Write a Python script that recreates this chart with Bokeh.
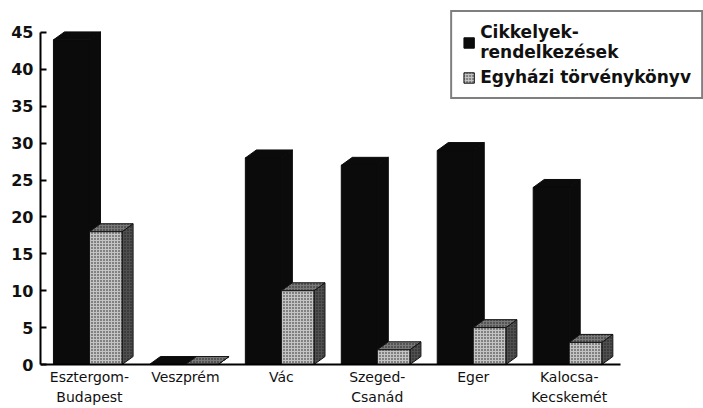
import numpy as np
from bokeh.plotting import figure
from bokeh.models import (Range1d, FixedTicker, Legend, LegendItem, ColumnDataSource)
from bokeh.embed import file_html
from bokeh.resources import INLINE

# ---- data ----
categories = ["Esztergom-\nBudapest", "Veszprém", "Vác", "Szeged-\nCsanád", "Eger", "Kalocsa-\nKecskemét"]
cikkelyek = [44, 0, 28, 27, 29, 24]
egyhazi = [18, 0, 10, 2, 5, 3]
y_ticks = [0, 5, 10, 15, 20, 25, 30, 35, 40, 45]

# ---- style / geometry constants ----
BW = 0.375   # black bar front width (in category units)
PW = 0.34    # patterned bar front width
DX = 0.115   # 3D depth in x
DY = 1.08    # 3D depth in y (value units)

x = np.arange(len(categories), dtype=float)

p = figure(width=703, height=408, output_backend="svg", toolbar_location=None,
           x_range=Range1d(-0.51, 6.40), y_range=Range1d(-5.96, 47.98),
           min_border_left=40, min_border_right=0, min_border_top=10, min_border_bottom=0)
p.outline_line_color = None
p.xgrid.visible = False
p.ygrid.visible = False
p.background_fill_color = "white"
p.border_fill_color = "white"


def bar3d(xl, xr, vals, front_kw, top_kw, side_kw):
    vals = np.asarray(vals, dtype=float)
    side_xs = [[a, a + DX, a + DX, a] for a in xr]
    side_ys = [[0, DY, v + DY, v] for v in vals]
    top_xs = [[a, a + DX, b + DX, b] for a, b in zip(xl, xr)]
    top_ys = [[v, v + DY, v + DY, v] for v in vals]
    p.patches(side_xs, side_ys, **side_kw)
    p.patches(top_xs, top_ys, **top_kw)
    src = ColumnDataSource(dict(x=(xl + xr) / 2, top=vals))
    r = p.vbar(x="x", top="top", bottom=0, width=xr[0] - xl[0], source=src, **front_kw)
    return r


black = dict(fill_color="#0b0b0b", line_color="#0b0b0b", line_width=1)
r1 = bar3d(x - BW, x, cikkelyek, black, black, black)

hatch = dict(hatch_pattern="dot", hatch_color="#1a1a1a", hatch_scale=3, hatch_weight=1.5)
r2 = bar3d(x, x + PW, egyhazi,
           dict(fill_color="#c4c4c4", line_color="#111111", line_width=1, **hatch),
           dict(fill_color="#7a7a7a", line_color="#111111", line_width=1, **hatch),
           dict(fill_color="#505050", line_color="#111111", line_width=1, **hatch))

# axes
p.yaxis.ticker = FixedTicker(ticks=y_ticks)
p.yaxis.bounds = (0, 45)
p.yaxis.axis_line_width = 2
p.yaxis.major_tick_in = 6
p.yaxis.major_tick_out = 0
p.yaxis.major_tick_line_width = 2
p.yaxis.minor_tick_line_color = None
p.yaxis.major_label_text_font = "DejaVu Sans"
p.yaxis.major_label_text_font_style = "bold"
p.yaxis.major_label_text_font_size = "16px"
p.yaxis.major_label_text_color = "#111111"
p.yaxis.major_label_standoff = 7

p.xaxis.fixed_location = 0
p.xaxis.ticker = FixedTicker(ticks=list(x))
p.xaxis.major_label_overrides = {i: c for i, c in enumerate(categories)}
p.xaxis.bounds = (-0.51, 5.54)
p.xaxis.axis_line_width = 2
p.xaxis.major_tick_in = 0
p.xaxis.major_tick_out = 0
p.xaxis.minor_tick_line_color = None
p.xaxis.major_label_text_font = "DejaVu Sans"
p.xaxis.major_label_text_font_size = "14px"
p.xaxis.major_label_text_line_height = 1.3
p.xaxis.major_label_text_color = "#111111"
p.xaxis.major_label_standoff = 4

legend = Legend(items=[LegendItem(label="Cikkelyek-\nrendelkezések", renderers=[r1]),
                       LegendItem(label="Egyházi törvénykönyv", renderers=[r2])],
                location="top_right", margin=0, padding=10, spacing=5,
                glyph_width=13, glyph_height=13, label_standoff=5,
                border_line_color="black", border_line_width=2,
                label_text_font="DejaVu Sans", label_text_font_style="bold",
                label_text_font_size="17px", label_text_color="#111111",
                label_text_line_height=1.45)
p.add_layout(legend)

open("out.html", "w").write(file_html(p, INLINE))
